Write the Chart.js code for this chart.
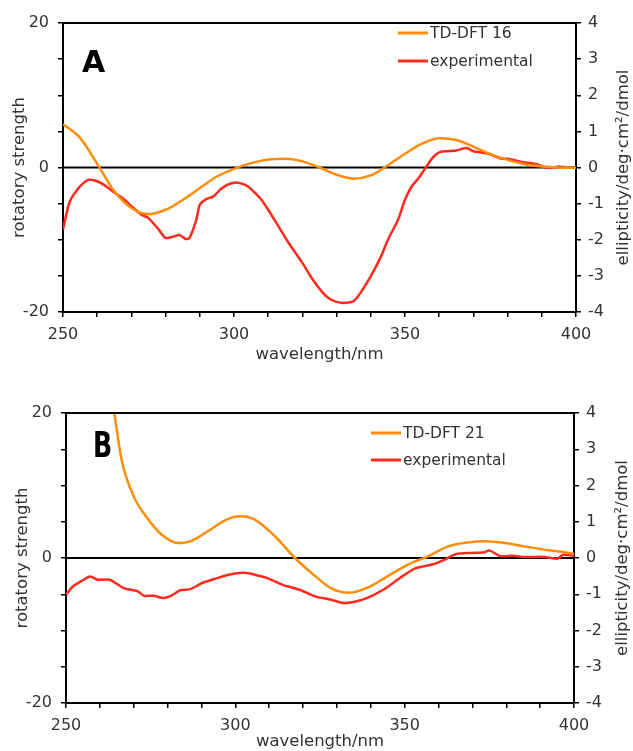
<!DOCTYPE html>
<html>
<head>
<meta charset="utf-8">
<script src="https://cdn.jsdelivr.net/npm/chart.js@4"></script>
<style>
html, body { margin: 0; padding: 0; background: #fff; }
#wrap { width: 633px; height: 751px; overflow: hidden; }
canvas { display: block; }
</style>
</head>
<body>
<div id="wrap">
    <canvas id="chartA" width="633" height="375"></canvas>
    <canvas id="chartB" width="633" height="376"></canvas>
</div>
<script>
// Panel A - TD-DFT 16 (rotatory strength, left axis)
const wlA_calc = [250, 255, 260, 265, 270, 275, 280, 285, 290, 295, 300, 305, 310, 315, 320, 325,
    330, 335, 340, 345, 350, 355, 360, 365, 370, 375, 380, 385, 390, 395, 400];
const rsA_calc = [6.0, 4.1, 0.5, -3.3, -5.6, -6.45, -5.85, -4.5, -2.85, -1.25, -0.2, 0.6, 1.1, 1.2, 0.85, 0.0,
    -1.0, -1.55, -1.1, 0.3, 1.9, 3.3, 4.05, 3.8, 2.9, 1.85, 1.05, 0.45, 0.15, 0.0, -0.05];

// Panel A - experimental (ellipticity, right axis)
const wlA_exp = [250, 252, 255, 257, 258, 260, 262, 265, 268, 270, 273, 275, 278, 280, 282, 284, 286, 287, 289, 290,
    292, 294, 296, 298, 300, 302, 304, 306, 308, 310, 313, 316, 320, 323, 326, 328, 330, 332, 334, 335,
    337, 340, 343, 345, 348, 350, 352, 354, 356, 358, 360, 362, 365, 368, 370, 372, 375, 378, 380, 382,
    385, 387, 389, 391, 393, 395, 397, 400];
const elA_exp = [-1.72, -0.94, -0.52, -0.36, -0.34, -0.38, -0.48, -0.69, -0.89, -1.07, -1.31, -1.4, -1.72, -1.95, -1.92, -1.87, -1.98, -1.95, -1.44, -1.03,
    -0.87, -0.8, -0.61, -0.48, -0.42, -0.44, -0.52, -0.69, -0.89, -1.17, -1.63, -2.09, -2.64, -3.1, -3.47, -3.64, -3.72, -3.75, -3.73, -3.7,
    -3.47, -3.01, -2.46, -2.0, -1.44, -0.89, -0.52, -0.29, -0.01, 0.26, 0.42, 0.45, 0.47, 0.54, 0.45, 0.42, 0.36, 0.25, 0.24, 0.2,
    0.14, 0.12, 0.08, 0.0, -0.01, 0.03, 0.0, -0.01];

// Panel B - TD-DFT 21
const wlB_calc = [264, 266.4, 270, 273.6, 278.3, 283.1, 286.7, 292.6, 297.4, 301.5, 305.7, 311.7, 317.6, 323.6,
    328.3, 333.7, 339, 345, 351, 356.9, 362.9, 368.8, 373.6, 379.5, 385.5, 391.4, 397.4, 400];
const rsB_calc = [20.9, 13.6, 8.5, 5.75, 3.2, 2.07, 2.3, 3.9, 5.3, 5.75, 5.3, 3.0, 0.0, -2.5,
    -4.2, -4.8, -4.1, -2.5, -0.9, 0.23, 1.6, 2.15, 2.3, 2.07, 1.6, 1.15, 0.8, 0.6];

// Panel B - experimental
const wlB_exp = [250, 252.1, 254.5, 257.1, 259.3, 262.9, 264.6, 267, 268.8, 271.2, 273, 276, 278.3, 280.7, 283.7, 286.7,
    290.2, 293.8, 296.2, 299.8, 302.7, 305.7, 309.3, 314, 318.8, 323.6, 328.3, 331.9, 335.5, 339, 343.8, 348.6,
    353.3, 358.1, 361.7, 365.2, 370, 373.6, 375, 378.3, 381.9, 385.5, 391.4, 395, 396.8, 400];
const elB_exp = [-1.01, -0.78, -0.64, -0.51, -0.6, -0.6, -0.69, -0.83, -0.87, -0.92, -1.04, -1.04, -1.1, -1.06, -0.89, -0.86,
    -0.69, -0.58, -0.51, -0.43, -0.41, -0.46, -0.55, -0.74, -0.87, -1.06, -1.15, -1.24, -1.2, -1.1, -0.87, -0.55,
    -0.28, -0.18, -0.05, 0.11, 0.14, 0.16, 0.21, 0.05, 0.06, 0.03, 0.03, -0.02, 0.09, 0.06];

const xTicksLabeled = [250, 300, 350, 400];
const yLeftLabeled = [-20, 0, 20];

const ORANGE = '#ff8c0a';
const RED = '#ff2a1e';
const FONT = '"DejaVu Sans", "Liberation Sans", sans-serif';
const TEXT = '#333';

function pts(xs, ys) {
    return xs.map((x, i) => ({ x: x, y: ys[i] }));
}

// frame, zero line, panel letter, legend, axis titles
const decor = {
    id: 'decor',
    beforeDatasetsDraw(chart) {
        const { ctx, chartArea: a, scales } = chart;
        const y0 = scales.y.getPixelForValue(0);
        ctx.save();
        ctx.strokeStyle = '#000';
        ctx.lineWidth = 2;
        ctx.beginPath();
        ctx.moveTo(a.left, y0);
        ctx.lineTo(a.right, y0);
        ctx.stroke();
        ctx.restore();
    },
    afterDraw(chart, args, o) {
        const { ctx, chartArea: a } = chart;
        ctx.save();
        ctx.strokeStyle = '#000';
        ctx.lineWidth = 2;
        ctx.beginPath();
        ctx.moveTo(a.left - 1, a.top);
        ctx.lineTo(a.right + 1, a.top);
        ctx.stroke();

        // panel letter
        ctx.fillStyle = '#000';
        ctx.textBaseline = 'alphabetic';
        ctx.textAlign = 'left';
        ctx.save();
        ctx.translate(o.letterX, o.letterY);
        ctx.scale(o.letterSx, 1);
        ctx.font = 'bold ' + o.letterSize + 'px ' + FONT;
        ctx.fillText(o.letter, 0, 0);
        ctx.restore();

        // legend
        ctx.font = '15.5px ' + FONT;
        ctx.textBaseline = 'middle';
        chart.data.datasets.forEach((ds, i) => {
            const y = o.legendY + i * o.legendGap;
            ctx.strokeStyle = ds.borderColor;
            ctx.lineWidth = 3;
            ctx.beginPath();
            ctx.moveTo(o.legendX, y);
            ctx.lineTo(o.legendX + 30, y);
            ctx.stroke();
            ctx.fillStyle = TEXT;
            ctx.fillText(ds.label, o.legendX + 32, y + 1);
        });

        // axis titles
        const midY = (a.top + a.bottom) / 2;
        ctx.font = '16.5px ' + FONT;
        ctx.fillStyle = TEXT;
        ctx.textAlign = 'center';
        ctx.textBaseline = 'middle';
        ctx.fillText('wavelength/nm', (a.left + a.right) / 2, o.xTitleY);
        ctx.save();
        ctx.translate(o.leftTitleX, midY);
        ctx.rotate(-Math.PI / 2);
        ctx.fillText('rotatory strength', 0, 0);
        ctx.restore();
        ctx.save();
        ctx.translate(o.rightTitleX, midY);
        ctx.rotate(-Math.PI / 2);
        ctx.fillText('ellipticity/deg\u00b7cm\u00b2/dmol', 0, 0);
        ctx.restore();
        ctx.restore();
    }
};

function makePanel(id, calcLabel, calcPts, expPts, box, deco) {
    const tickFont = { family: FONT, size: 16 };
    return new Chart(document.getElementById(id), {
        type: 'line',
        data: {
            datasets: [
                {
                    label: calcLabel, data: calcPts, yAxisID: 'y',
                    borderColor: ORANGE, borderWidth: 2.5, pointRadius: 0,
                    cubicInterpolationMode: 'monotone'
                },
                {
                    label: 'experimental', data: expPts, yAxisID: 'y2',
                    borderColor: RED, borderWidth: 2.5, pointRadius: 0, tension: 0.25
                }
            ]
        },
        options: {
            responsive: false,
            animation: false,
            events: [],
            layout: { padding: { top: box.top, left: 0, right: 0, bottom: 0 } },
            plugins: { legend: { display: false }, tooltip: { enabled: false }, decor: deco },
            scales: {
                x: {
                    type: 'linear', min: 250, max: 400,
                    afterFit: s => { s.height = box.bottomH; },
                    ticks: {
                        stepSize: 10, autoSkip: false, maxRotation: 0, padding: 8,
                        color: TEXT, font: tickFont,
                        callback: v => xTicksLabeled.includes(v) ? String(v) : ''
                    },
                    grid: { drawOnChartArea: false, tickLength: 5, color: '#000', lineWidth: 1.5 },
                    border: { color: '#000', width: 2 }
                },
                y: {
                    position: 'left', min: -20, max: 20,
                    afterFit: s => { s.width = box.leftW; },
                    ticks: {
                        stepSize: 5, padding: 9, color: TEXT, font: tickFont,
                        callback: v => yLeftLabeled.includes(v) ? String(v) : ''
                    },
                    grid: { drawOnChartArea: false, tickLength: 5, color: '#000', lineWidth: 1.5 },
                    border: { color: '#000', width: 2 }
                },
                y2: {
                    position: 'right', min: -4, max: 4,
                    afterFit: s => { s.width = box.rightW; },
                    ticks: { stepSize: 1, padding: 7, color: TEXT, font: tickFont },
                    grid: { drawOnChartArea: false, tickLength: 5, color: '#000', lineWidth: 1.5 },
                    border: { color: '#000', width: 2 }
                }
            }
        },
        plugins: [decor]
    });
}

makePanel('chartA', 'TD-DFT 16', pts(wlA_calc, rsA_calc), pts(wlA_exp, elA_exp),
    { top: 23, bottomH: 63, leftW: 63, rightW: 57 },
    { letter: 'A', letterX: 82, letterY: 72, letterSize: 30, letterSx: 1,
      legendX: 398, legendY: 33, legendGap: 28,
      leftTitleX: 20, rightTitleX: 624, xTitleY: 355 });

makePanel('chartB', 'TD-DFT 21', pts(wlB_calc, rsB_calc), pts(wlB_exp, elB_exp),
    { top: 38, bottomH: 48, leftW: 66, rightW: 59 },
    { letter: 'B', letterX: 93, letterY: 82, letterSize: 35, letterSx: 0.72,
      legendX: 371, legendY: 58, legendGap: 27,
      leftTitleX: 23, rightTitleX: 623, xTitleY: 367 });
</script>
</body>
</html>
